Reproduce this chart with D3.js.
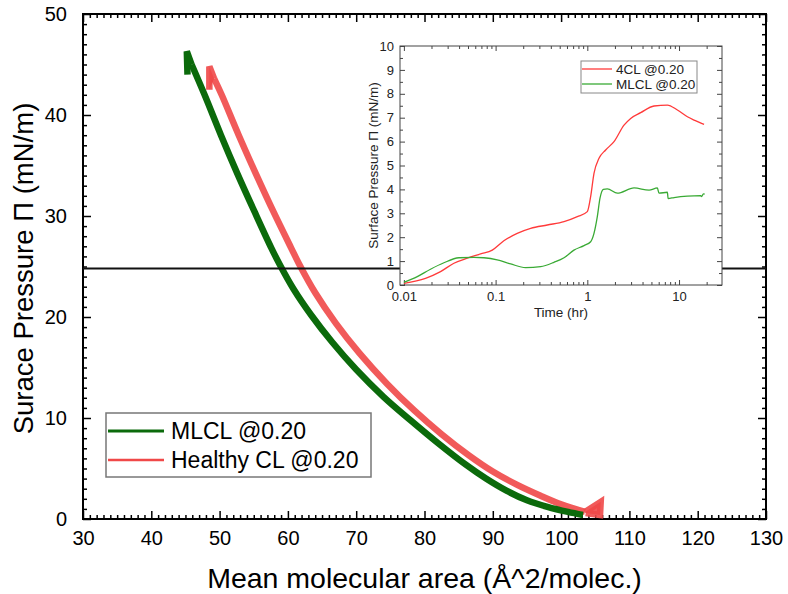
<!DOCTYPE html>
<html>
<head>
<meta charset="utf-8">
<script src="https://cdn.jsdelivr.net/npm/d3@7"></script>
<style>
	body { margin: 0; background: #fff; }
	svg { display: block; font-family: 'Liberation Sans', Arial, sans-serif; }
</style>
</head>
<body>
<div id="chart"></div>
<script>
// Main isotherms (area in Å^2/molec, pressure in mN/m)
const mlclArea = [45.3, 45.2, 45.9, 47.8, 50.2, 52.6, 55.2, 57.6, 58.8, 60.8, 63.4, 66.5, 70.0, 74.0, 78.0, 82.0, 86.0, 89.0, 92.0, 95.0, 98.0, 101.0, 103.2];
const mlclPressure = [44.0, 46.3, 45.0, 42.0, 38.0, 34.2, 30.3, 26.8, 25.2, 22.8, 20.2, 17.5, 14.8, 12.1, 9.75, 7.5, 5.4, 4.0, 2.8, 1.85, 1.2, 0.7, 0.4];

const healthyArea = [48.5, 48.5, 49.2, 50.3, 52.8, 55.3, 57.9, 60.5, 61.6, 64.0, 67.0, 70.5, 74.5, 78.5, 82.5, 86.5, 90.0, 93.5, 97.0, 100.0, 103.5, 105.8, 105.7, 103.6];
const healthyPressure = [42.5, 44.8, 43.6, 42.0, 38.0, 34.2, 30.4, 26.8, 25.3, 22.4, 19.4, 16.4, 13.4, 10.75, 8.4, 6.3, 4.7, 3.4, 2.3, 1.45, 0.7, 1.7, 0.4, 0.6];

// Inset kinetics (time in hr, pressure in mN/m)
const time4CL = [0.01, 0.0172, 0.0251, 0.0351, 0.0491, 0.0686, 0.092, 0.123, 0.172, 0.241, 0.366, 0.557, 0.778, 1.0, 1.087, 1.182, 1.341, 1.585, 1.954, 2.512, 2.971, 3.817, 5.337, 7.459, 9.59, 12.33, 14.58, 18.74];
const pressure4CL = [0.07, 0.28, 0.56, 0.91, 1.12, 1.30, 1.46, 1.85, 2.16, 2.37, 2.51, 2.65, 2.86, 3.07, 3.70, 4.67, 5.30, 5.65, 6.00, 6.69, 6.97, 7.21, 7.49, 7.53, 7.32, 7.04, 6.90, 6.72];

const timeMLCL = [0.01, 0.014, 0.0195, 0.0273, 0.0398, 0.058, 0.0746, 0.104, 0.146, 0.2125, 0.31, 0.433, 0.557, 0.715, 0.92, 1.087, 1.182, 1.285, 1.375, 1.494, 1.653, 2.125, 3.23, 4.706, 5.802, 6.049, 7.459, 7.6, 8.82, 12.33, 17.23, 17.6, 18.43, 19.05];
const pressureMLCL = [0.11, 0.35, 0.66, 0.93, 1.14, 1.16, 1.14, 1.05, 0.88, 0.73, 0.77, 0.95, 1.14, 1.46, 1.65, 1.81, 2.16, 2.86, 3.63, 4.00, 4.02, 3.84, 4.06, 3.97, 4.06, 3.84, 3.88, 3.62, 3.66, 3.72, 3.74, 3.70, 3.81, 3.80];

// Ticks and labels
const xTicks = [30, 40, 50, 60, 70, 80, 90, 100, 110, 120, 130];
const yTicks = [0, 10, 20, 30, 40, 50];
const insetXTicks = [0.01, 0.1, 1, 10];
const insetYTicks = [0, 1, 2, 3, 4, 5, 6, 7, 8, 9, 10];
const mainLegend = ['MLCL @0.20', 'Healthy CL @0.20'];
const insetLegend = ['4CL @0.20', 'MLCL @0.20'];
const targetPressure = 24.8;

const W = 788, H = 594;
let margin = { top: 14, right: 22, bottom: 75, left: 83 },
	width = W - margin.left - margin.right,
	height = H - margin.top - margin.bottom;

const green = '#0b6a0b', red = '#f04848';
const insetGreen = '#3aaa35', insetRed = '#ff3a3a';

let svg = d3.select('#chart')
	.append('svg')
	.attr('width', W)
	.attr('height', H);

let g = svg.append('g')
	.attr('transform', `translate(${margin.left}, ${margin.top})`);

let xScale = d3.scaleLinear().domain([30, 130]).range([0, width]);
let yScale = d3.scaleLinear().domain([0, 50]).range([height, 0]);

//Minor ticks every 1 unit on all four sides, pointing inward
let xMinor = d3.range(30, 131, 1).filter(v => v % 10 !== 0);
let yMinor = d3.range(0, 51, 1).filter(v => v % 10 !== 0);

function styleAxis(sel) {
	sel.select('.domain').remove();
	sel.selectAll('line').attr('stroke', '#000').attr('stroke-width', 1.5);
	sel.selectAll('text').attr('fill', '#000').style('font-size', '20px')
		.style('font-family', "'Liberation Sans', Arial, sans-serif");
}

g.append('g').attr('transform', `translate(0, ${height})`)
	.call(d3.axisBottom(xScale).tickValues(xMinor).tickSize(-4).tickFormat(''))
	.call(styleAxis);
g.append('g').attr('transform', `translate(0, ${height})`)
	.call(d3.axisBottom(xScale).tickValues(xTicks).tickSize(-8).tickSizeOuter(0).tickPadding(12))
	.call(styleAxis);
g.append('g')
	.call(d3.axisTop(xScale).tickValues(xMinor).tickSize(-4).tickFormat(''))
	.call(styleAxis);
g.append('g')
	.call(d3.axisTop(xScale).tickValues(xTicks).tickSize(-8).tickFormat(''))
	.call(styleAxis);

g.append('g')
	.call(d3.axisLeft(yScale).tickValues(yMinor).tickSize(-4).tickFormat(''))
	.call(styleAxis);
g.append('g')
	.call(d3.axisLeft(yScale).tickValues(yTicks).tickSize(-8).tickPadding(16))
	.call(styleAxis);
g.append('g').attr('transform', `translate(${width}, 0)`)
	.call(d3.axisRight(yScale).tickValues(yMinor).tickSize(-4).tickFormat(''))
	.call(styleAxis);
g.append('g').attr('transform', `translate(${width}, 0)`)
	.call(d3.axisRight(yScale).tickValues(yTicks).tickSize(-8).tickFormat(''))
	.call(styleAxis);

//Plot frame
g.append('rect')
	.attr('width', width)
	.attr('height', height)
	.attr('fill', 'none')
	.attr('stroke', '#000')
	.attr('stroke-width', 2);

//Axis titles
svg.append('text')
	.attr('x', margin.left + width / 2)
	.attr('y', 588)
	.attr('text-anchor', 'middle')
	.style('font-size', '28.5px')
	.text('Mean molecular area (Å^2/molec.)');

svg.append('text')
	.attr('transform', `translate(33, ${margin.top + height / 2 + 2}) rotate(-90)`)
	.attr('text-anchor', 'middle')
	.style('font-size', '27.5px')
	.text('Surace Pressure Π (mN/m)');

//Isotherm bands: smooth body, filled straight segments for the turn-around flags
let smooth = d3.line()
	.x(d => xScale(d[0]))
	.y(d => yScale(d[1]))
	.curve(d3.curveCatmullRom.alpha(0.5));
let straight = d3.line()
	.x(d => xScale(d[0]))
	.y(d => yScale(d[1]));

function drawBand(data, headEnd, tailStart, color, opacity) {
	let pieces = [
		{ pts: data.slice(0, headEnd + 1), gen: straight, flag: true },
		{ pts: data.slice(headEnd, tailStart + 1), gen: smooth, flag: false },
		{ pts: data.slice(tailStart), gen: straight, flag: true }
	].filter(p => p.pts.length > 1);

	g.selectAll(null)
		.data(pieces)
		.enter()
		.append('path')
		.attr('d', p => p.gen(p.pts))
		.attr('fill', p => p.flag ? color : 'none')
		.attr('fill-opacity', opacity)
		.attr('stroke', color)
		.attr('stroke-opacity', opacity)
		.attr('stroke-width', 6.5)
		.attr('stroke-linejoin', 'miter')
		.attr('stroke-linecap', 'butt');
}

let healthyData = healthyArea.map((a, i) => [a, healthyPressure[i]]);
let mlclData = mlclArea.map((a, i) => [a, mlclPressure[i]]);

drawBand(healthyData, 2, 20, red, 0.9);
drawBand(mlclData, 2, mlclData.length - 1, green, 1);

//Main legend
let legend = svg.append('g').attr('transform', 'translate(106, 413)');
legend.append('rect')
	.attr('width', 265)
	.attr('height', 64)
	.attr('fill', '#fff')
	.attr('stroke', '#777')
	.attr('stroke-width', 1.5);
legend.selectAll('g.item')
	.data(mainLegend)
	.enter()
	.append('g')
	.attr('class', 'item')
	.attr('transform', (d, i) => `translate(0, ${18 + i * 29})`)
	.each(function (d, i) {
		let item = d3.select(this);
		item.append('line')
			.attr('x1', 2).attr('x2', 58)
			.attr('stroke', i === 0 ? green : red)
			.attr('stroke-width', i === 0 ? 3 : 2.5);
		item.append('text')
			.attr('x', 65)
			.attr('y', 8)
			.style('font-size', '23px')
			.text(d);
	});

//Inset
let inset = { left: 400, top: 46, width: 322, height: 239 };
let ig = svg.append('g').attr('transform', `translate(${inset.left}, ${inset.top})`);

let ixScale = d3.scaleLog().domain([0.00907, 29.4]).range([0, inset.width]);
let iyScale = d3.scaleLinear().domain([0, 10]).range([inset.height, 0]);

let ixMinor = [];
[0.01, 0.1, 1, 10].forEach(dec => d3.range(2, 10).forEach(m => { if (dec * m < 29.4) ixMinor.push(dec * m); }));
let iyMinor = d3.range(0.5, 10, 1);

function styleInset(sel) {
	sel.select('.domain').remove();
	sel.selectAll('line').attr('stroke', '#444').attr('stroke-width', 1);
	sel.selectAll('text').attr('fill', '#222').style('font-size', '13px')
		.style('font-family', "'Liberation Sans', Arial, sans-serif");
}

ig.append('rect')
	.attr('width', inset.width)
	.attr('height', inset.height)
	.attr('fill', '#fff');

ig.append('g').attr('transform', `translate(0, ${inset.height})`)
	.call(d3.axisBottom(ixScale).tickValues(ixMinor).tickSize(-3).tickFormat(''))
	.call(styleInset);
ig.append('g').attr('transform', `translate(0, ${inset.height})`)
	.call(d3.axisBottom(ixScale).tickValues(insetXTicks).tickSize(-5).tickPadding(7).tickFormat(d3.format('~g')))
	.call(styleInset);
ig.append('g')
	.call(d3.axisTop(ixScale).tickValues(ixMinor).tickSize(-3).tickFormat(''))
	.call(styleInset);
ig.append('g')
	.call(d3.axisTop(ixScale).tickValues(insetXTicks).tickSize(-5).tickFormat(''))
	.call(styleInset);
ig.append('g')
	.call(d3.axisLeft(iyScale).tickValues(iyMinor).tickSize(-3).tickFormat(''))
	.call(styleInset);
ig.append('g')
	.call(d3.axisLeft(iyScale).tickValues(insetYTicks).tickSize(-5).tickPadding(6))
	.call(styleInset);
ig.append('g').attr('transform', `translate(${inset.width}, 0)`)
	.call(d3.axisRight(iyScale).tickValues(iyMinor).tickSize(-3).tickFormat(''))
	.call(styleInset);
ig.append('g').attr('transform', `translate(${inset.width}, 0)`)
	.call(d3.axisRight(iyScale).tickValues(insetYTicks).tickSize(-5).tickFormat(''))
	.call(styleInset);

ig.append('rect')
	.attr('width', inset.width)
	.attr('height', inset.height)
	.attr('fill', 'none')
	.attr('stroke', '#444')
	.attr('stroke-width', 1);

ig.append('text')
	.attr('x', inset.width / 2)
	.attr('y', 32)
	.attr('transform', `translate(0, ${inset.height})`)
	.attr('text-anchor', 'middle')
	.style('font-size', '13.5px')
	.attr('fill', '#222')
	.text('Time (hr)');

ig.append('text')
	.attr('transform', `translate(-22, ${inset.height / 2}) rotate(-90)`)
	.attr('text-anchor', 'middle')
	.style('font-size', '13.5px')
	.attr('fill', '#222')
	.text('Surface Pressure Π (mN/m)');

let iline = d3.line()
	.x(d => ixScale(d[0]))
	.y(d => iyScale(d[1]))
	.curve(d3.curveMonotoneX);

ig.append('path')
	.datum(time4CL.map((t, i) => [t, pressure4CL[i]]))
	.attr('d', iline)
	.attr('fill', 'none')
	.attr('stroke', insetRed)
	.attr('stroke-width', 1.3);

ig.append('path')
	.datum(timeMLCL.map((t, i) => [t, pressureMLCL[i]]))
	.attr('d', iline)
	.attr('fill', 'none')
	.attr('stroke', insetGreen)
	.attr('stroke-width', 1.3);

//Inset legend
let ilegend = ig.append('g').attr('transform', 'translate(181, 15)');
ilegend.append('rect')
	.attr('width', 116)
	.attr('height', 32)
	.attr('fill', '#fff')
	.attr('stroke', '#888')
	.attr('stroke-width', 1);
ilegend.selectAll('g.item')
	.data(insetLegend)
	.enter()
	.append('g')
	.attr('class', 'item')
	.attr('transform', (d, i) => `translate(0, ${8 + i * 15})`)
	.each(function (d, i) {
		let item = d3.select(this);
		item.append('line')
			.attr('x1', 1).attr('x2', 31)
			.attr('stroke', i === 0 ? insetRed : insetGreen)
			.attr('stroke-width', 1.3);
		item.append('text')
			.attr('x', 35)
			.attr('y', 5)
			.attr('fill', '#222')
			.style('font-size', '13.5px')
			.text(d);
	});

//Target pressure line drawn over everything
g.append('line')
	.attr('x1', 0)
	.attr('x2', width)
	.attr('y1', yScale(targetPressure))
	.attr('y2', yScale(targetPressure))
	.attr('stroke', '#111')
	.attr('stroke-width', 2);
</script>
</body>
</html>
